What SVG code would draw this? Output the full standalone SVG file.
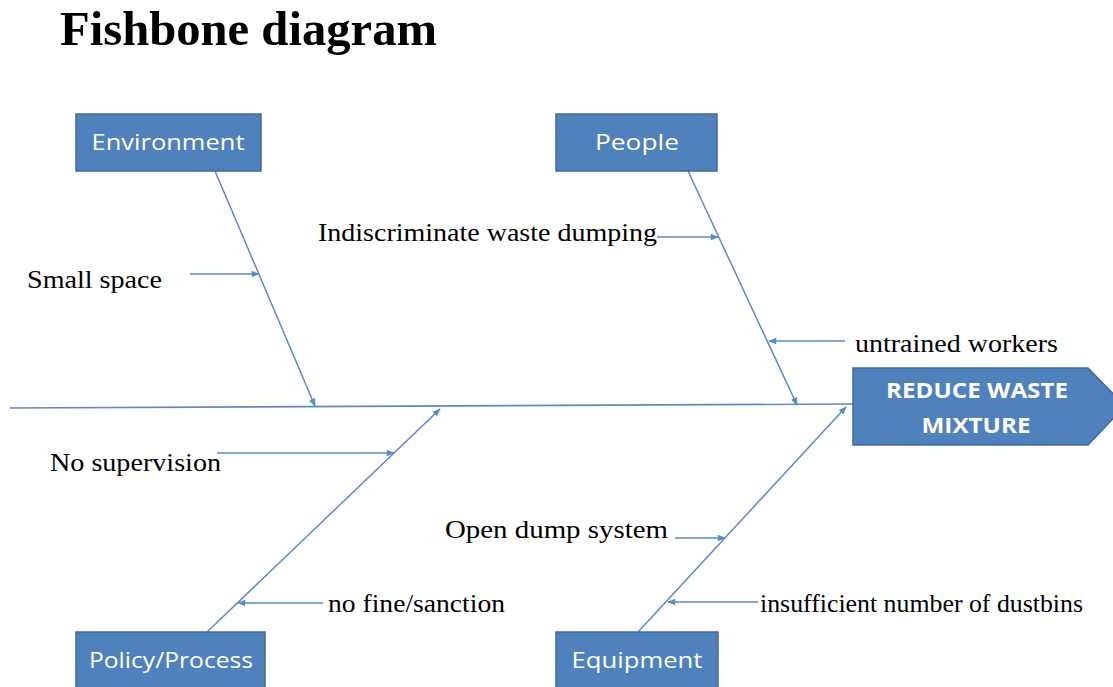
<svg xmlns="http://www.w3.org/2000/svg" width="1113" height="687" viewBox="0 0 1113 687">
<style>
.box{fill:#4F81BD;stroke:#3F6A9E;stroke-width:1.5}
.bt{font-family:"Open Sans","Liberation Sans",sans-serif;font-size:22px;fill:#FFFFFF;text-anchor:middle}
.ht{font-family:"Open Sans","Liberation Sans",sans-serif;font-size:22px;font-weight:bold;fill:#FFFFFF;text-anchor:middle}
.lb{font-family:"Liberation Serif","Times New Roman",serif;font-size:26px;fill:#000000}
.bone{stroke:#5A8AC6;stroke-width:1.6;fill:none}
.sub{stroke:#5A8AC6;stroke-width:1.5;fill:none;marker-end:url(#ah)}
</style>
<defs>
<marker id="ah" viewBox="0 0 10 10" refX="9" refY="5" markerWidth="9" markerHeight="8" markerUnits="userSpaceOnUse" orient="auto">
<path d="M0,1 L10,5 L0,9 z" fill="#5A8AC6"/>
</marker>
</defs>
<rect width="1113" height="687" fill="#FFFFFF"/>
<text x="60" y="45" font-family="Liberation Serif,'Times New Roman',serif" font-size="48" font-weight="bold" textLength="377" lengthAdjust="spacingAndGlyphs">Fishbone diagram</text>

<g id="connectors">
<line class="bone" x1="10" y1="408" x2="853" y2="404"/>
<line class="sub" x1="215" y1="171" x2="315" y2="406"/>
<line class="sub" x1="688" y1="171" x2="797" y2="405"/>
<line class="sub" x1="207" y1="632" x2="440" y2="409"/>
<line class="sub" x1="638" y1="632" x2="846" y2="407"/>
<line class="sub" x1="190" y1="274" x2="259" y2="274"/>
<line class="sub" x1="657" y1="237" x2="718" y2="237"/>
<line class="sub" x1="845" y1="341" x2="769" y2="341"/>
<line class="sub" x1="217" y1="453" x2="394" y2="453"/>
<line class="sub" x1="323" y1="603" x2="238" y2="603"/>
<line class="sub" x1="675" y1="538" x2="725" y2="538"/>
<line class="sub" x1="758" y1="602" x2="668" y2="602"/>
</g>

<g id="environment">
<rect class="box" x="76" y="114" width="185" height="57"/>
<text class="bt" x="168" y="150" textLength="153" lengthAdjust="spacingAndGlyphs">Environment</text>
</g>
<g id="people">
<rect class="box" x="556" y="114" width="161" height="57"/>
<text class="bt" x="637" y="150" textLength="84" lengthAdjust="spacingAndGlyphs">People</text>
</g>
<g id="policy">
<rect class="box" x="76" y="632" width="189" height="60"/>
<text class="bt" x="171" y="668" textLength="164" lengthAdjust="spacingAndGlyphs">Policy/Process</text>
</g>
<g id="equipment">
<rect class="box" x="556" y="632" width="162" height="60"/>
<text class="bt" x="637" y="668" textLength="131" lengthAdjust="spacingAndGlyphs">Equipment</text>
</g>
<g id="head">
<polygon class="box" points="853,368 1088,368 1125,406 1088,445 853,445"/>
<text class="ht" x="977" y="398" textLength="182" lengthAdjust="spacingAndGlyphs">REDUCE WASTE</text>
<text class="ht" x="976" y="433" textLength="109" lengthAdjust="spacingAndGlyphs">MIXTURE</text>
</g>

<g id="labels">
<text class="lb" x="27" y="288" textLength="135" lengthAdjust="spacingAndGlyphs">Small  space</text>
<text class="lb" x="318" y="241" textLength="339" lengthAdjust="spacingAndGlyphs">Indiscriminate  waste dumping</text>
<text class="lb" x="855" y="352" textLength="203" lengthAdjust="spacingAndGlyphs">untrained workers</text>
<text class="lb" x="50" y="471" textLength="171" lengthAdjust="spacingAndGlyphs">No supervision</text>
<text class="lb" x="445" y="538" textLength="223" lengthAdjust="spacingAndGlyphs">Open dump system</text>
<text class="lb" x="328" y="612" textLength="177" lengthAdjust="spacingAndGlyphs">no fine/sanction</text>
<text class="lb" x="760" y="612" font-size="22" textLength="323" lengthAdjust="spacingAndGlyphs">insufficient number of dustbins</text>
</g>
</svg>
